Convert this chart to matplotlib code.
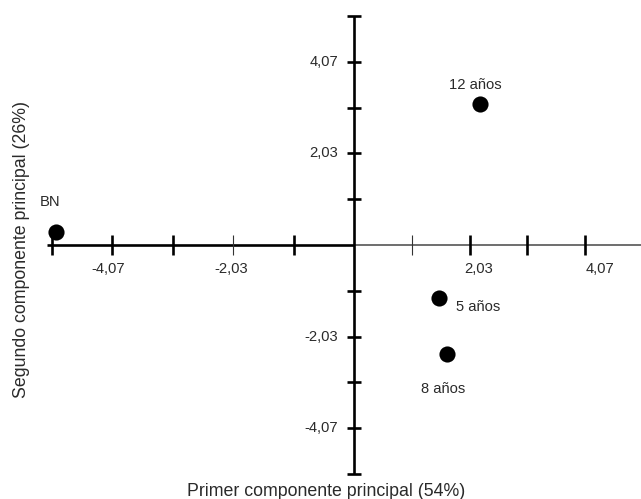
import matplotlib
matplotlib.use("Agg")
import matplotlib.pyplot as plt
import numpy as np

plt.rcParams['font.family'] = ['Liberation Sans', 'DejaVu Sans']

# Data
labels = ["BN", "12 años", "5 años", "8 años"]
pc1 = [-5.02, 2.22, 1.50, 1.64]
pc2 = [0.28, 3.13, -1.17, -2.42]

step = 1.0175
tick_labels_x = {-4: "-4,07", -2: "-2,03", 2: "2,03", 4: "4,07"}
tick_labels_y = {4: "4,07", 2: "2,03", -2: "-2,03", -4: "-4,07"}
xlabel = "Primer componente principal (54%)"
ylabel = "Segundo componente principal (26%)"

W, H = 641, 499
fig = plt.figure(figsize=(W / 100, H / 100), dpi=100)
ax = fig.add_axes([0, 0, 1, 1])
ax.set_axis_off()

ppx_neg = 60.4 / step   # pixels per unit x, negative side
ppx_pos = 57.75 / step  # pixels per unit x, positive side
ratio = ppx_pos / ppx_neg


def fwd(x):
    x = np.asarray(x, dtype=float)
    return np.where(x > 0, x * ratio, x)


def inv(x):
    x = np.asarray(x, dtype=float)
    return np.where(x > 0, x / ratio, x)


ax.set_xscale('function', functions=(fwd, inv))

ppy = 45.8 / step
ox, oy = 354, 245
ax.set_xlim(-ox / ppx_neg, (W - ox) / ppx_pos)
ax.set_ylim(-(H - oy) / ppy, oy / ppy)

dxn = 1 / ppx_neg
dxp = 1 / ppx_pos
dy = 1 / ppy

# axes lines
ax.plot([-5 * step - 5 * dxn, 0], [0, 0], color='black', lw=1.9, solid_capstyle='butt', zorder=2)
ax.plot([0, (W - ox) / ppx_pos], [0, 0], color='#555555', lw=1.2, solid_capstyle='butt', zorder=1)
ax.plot([0, 0], [-5 * step, 5 * step], color='black', lw=1.9, solid_capstyle='butt', zorder=2)

# x ticks
for k in range(-5, 5):
    if k == 0:
        continue
    thin = k in (-2, 1)
    ax.plot([k * step, k * step], [-10 * dy, 10 * dy],
            color='#333333' if thin else 'black', lw=0.8 if thin else 1.9,
            solid_capstyle='butt', zorder=2)

# y ticks
for k in range(-5, 6):
    if k == 0:
        continue
    ax.plot([-7 * dxn, 7 * dxp], [k * step, k * step], color='black', lw=1.9,
            solid_capstyle='butt', zorder=2)

tc = '#2a2a2a'
fs = 10.6
# x tick labels
xoff = {-4: -4, -2: -2, 2: 9, 4: 15}
for k, t in tick_labels_x.items():
    d = dxn if k < 0 else dxp
    ax.text(k * step + xoff[k] * d, -24 * dy, t, ha='center', va='center',
            fontsize=fs, color=tc)
# y tick labels
for k, t in tick_labels_y.items():
    ax.text(-16 * dxn, k * step, t, ha='right', va='center', fontsize=fs, color=tc)

# points
ax.scatter(pc1, pc2, s=135, color='black', zorder=3, linewidths=0)

# point labels
offs = {"BN": (-6, 30, 'center'), "12 años": (-5, 19, 'center'),
        "5 años": (17, -9, 'left'), "8 años": (-4, -35, 'center')}
for lab, x, y in zip(labels, pc1, pc2):
    ox_, oy_, ha = offs[lab]
    d = dxn if x < 0 else dxp
    ax.text(x + ox_ * d, y + oy_ * dy, lab, ha=ha, va='center', fontsize=fs, color=tc)

# axis labels
ax.text((326 - ox) / ppx_neg, -(492 - oy) / ppy, xlabel, ha='center', va='center',
        fontsize=12.8, color=tc)
ax.text((22 - ox) / ppx_neg, -(249 - oy) / ppy, ylabel, ha='center', va='center',
        fontsize=12.8, color=tc, rotation=90)

fig.savefig("out.png", dpi=100)
